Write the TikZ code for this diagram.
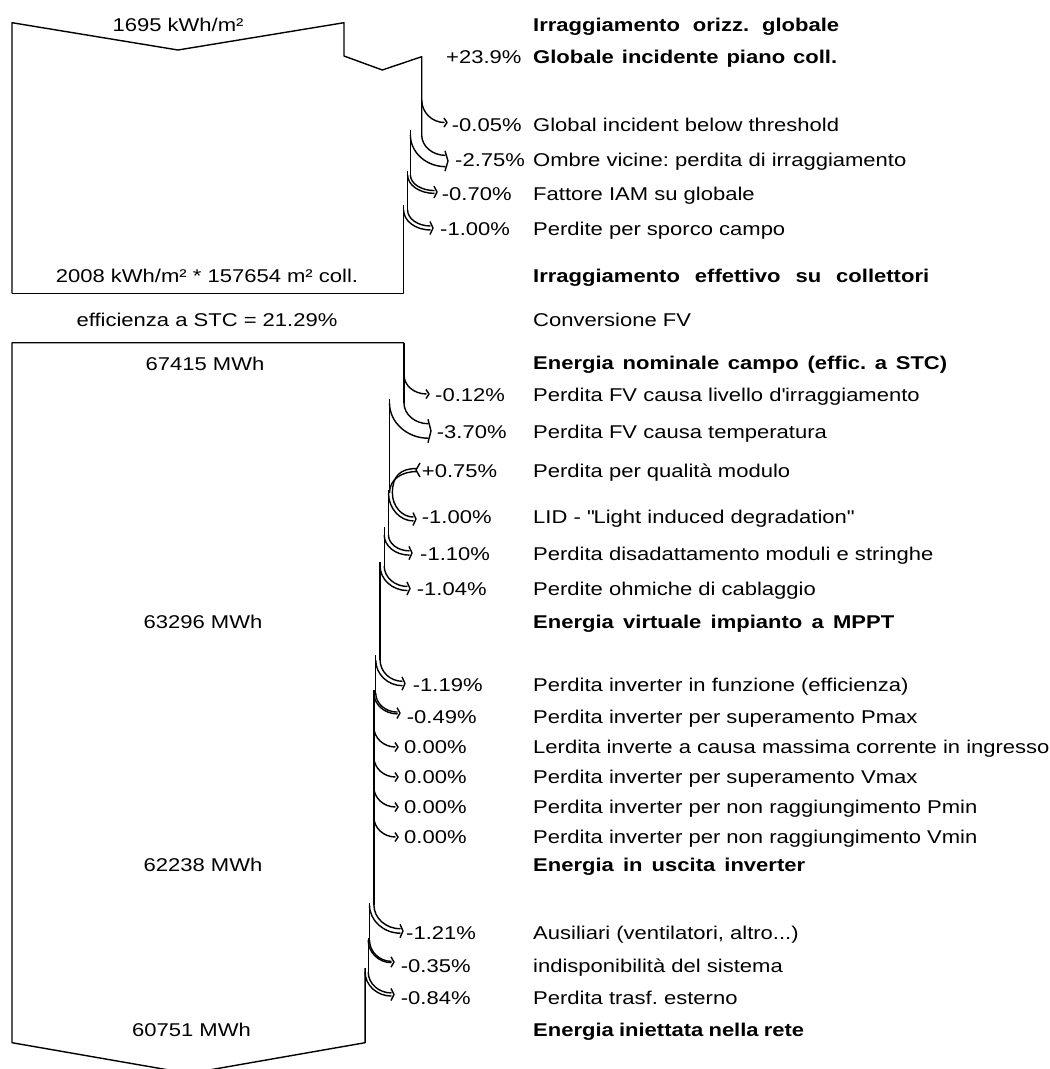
\documentclass[tikz,border=0pt]{standalone}
\usepackage{fontspec}
\setmainfont{Liberation Sans}[FakeStretch=1.19]
\frenchspacing
\newcommand\BL[2]{\makebox[#1pt][s]{\bfseries\frenchspacing #2}}
\newcommand\LossArr[5]{%
  \pgfmathsetmacro\LAxo{#1}%
  \pgfmathsetmacro\LAw{#2}%
  \pgfmathsetmacro\LAyb{#3}%
  \pgfmathsetmacro\LAxt{#4}%
  \pgfmathsetmacro\LAyt{#5}%
  \pgfmathsetmacro\LAxi{\LAxo-\LAw}%
  \pgfmathsetmacro\LAya{\LAyt-\LAw/2}%
  \pgfmathsetmacro\LAyc{\LAyt+\LAw/2}%
  \pgfmathsetmacro\LAxe{\LAxt-2.5}%
  \pgfmathtruncatemacro\LAtwo{\LAw>0.8 ? 1 : 0}%
  \draw[flow] (\LAxo,\LAyb) .. controls (\LAxo,{\LAyb+0.55*(\LAya-\LAyb)}) and ({\LAxe-0.55*(\LAxe-\LAxo)},\LAya) .. (\LAxe,\LAya);
  \ifnum\LAtwo=1
    \draw[flow] (\LAxi,\LAyb) .. controls (\LAxi,{\LAyb+0.55*(\LAyc-\LAyb)}) and ({\LAxe-0.55*(\LAxe-\LAxi)},\LAyc) .. (\LAxe,\LAyc);
  \fi
  \draw[flow] ({\LAxt-3},{\LAya-4.5}) -- (\LAxt,\LAyt) -- ({\LAxt-3},{\LAyc+4.5});
}
\begin{document}
\begin{tikzpicture}[x=1pt,y=-1pt,
  flow/.style={line width=1.4pt,line join=round},
  every node/.style={font=\fontsize{18.5}{22}\selectfont,inner sep=0pt},
  rl/.style={anchor=base west},
  cl/.style={anchor=base}]
\useasboundingbox (0,0) rectangle (1050,1069);
\clip (0,0) rectangle (1050,1069);

% ---------- upper flow (irradiance) ----------
\draw[flow] (12,293.3) -- (12,22.7) -- (178,50) -- (344,22.7) -- (344,56) -- (382.3,70) -- (421.7,56.7) -- (421.7,135);
\draw[flow] (410.4,130) -- (410.4,175);
\draw[flow] (407.6,171) -- (407.6,210);
\draw[flow] (403.6,205) -- (403.6,293.3) -- (12,293.3);
\LossArr{421.7}{0}{100}{447}{122.5}
\LossArr{421.7}{11.3}{135}{448}{161}
\LossArr{410.4}{2.8}{175}{437}{192}
\LossArr{407.6}{4.0}{210}{433}{228}

% ---------- lower flow (energy) ----------
\draw[flow] (404,342.7) -- (12,342.7) -- (12,1042.7) -- (189,1073.5) -- (365.1,1042.7) -- (365.1,968);
\draw[flow] (404,342.7) -- (404,403);
\LossArr{404}{0}{375}{429}{394}
\LossArr{404}{14.5}{403}{431}{431}
\draw[flow] (389.5,399) -- (389.5,493);
% gain +0.75%
\draw[flow] (417,468.5) .. controls (400,468.5) and (392.4,476) .. (392.4,493);
\draw[flow] (417,471.5) .. controls (402,471.5) and (389.5,479) .. (389.5,493);
\draw[flow] (420,463) -- (416,470) -- (420,477);
\LossArr{392.4}{3.9}{493}{416}{519}
\draw[flow] (388.5,490) -- (388.5,535);
\LossArr{388.5}{4.3}{535}{412}{553}
\draw[flow] (384.2,527) -- (384.2,566);
\LossArr{384.2}{4.1}{566}{410}{588.5}
\draw[flow] (380.1,562) -- (380.1,660);
\LossArr{380.1}{4.4}{660}{405}{683.5}
\draw[flow] (375.7,655) -- (375.7,693);
\LossArr{375.7}{1.8}{693}{400}{713}
\draw[flow] (373.9,690) -- (373.9,905);
\LossArr{373.9}{0}{727}{398}{747}
\LossArr{373.9}{0}{757}{398}{777}
\LossArr{373.9}{0}{787}{398}{807}
\LossArr{373.9}{0}{817}{398}{837}
\LossArr{373.9}{4.4}{905}{403}{931}
\draw[flow] (369.5,903) -- (369.5,940);
\LossArr{369.5}{1.3}{940}{394}{962}
\draw[flow] (368.2,938) -- (368.2,972);
\LossArr{368.2}{3.1}{972}{394}{994.5}

% ---------- left values ----------
\node[cl] (l1) at (178,31) {1695 kWh/m²};
\node[cl] (l2) at (207,282) {2008 kWh/m² * 157654 m² coll.};
\node[cl] (l3) at (207,326.5) {efficienza a STC = 21.29\%};
\node[cl] (l4) at (205,370) {67415 MWh};
\node[cl] (l5) at (203,628) {63296 MWh};
\node[cl] (l6) at (203,871.5) {62238 MWh};
\node[cl] (l7) at (191.5,1036.7) {60751 MWh};

% ---------- percentages ----------
\node[rl] (p1) at (446,63.3) {+23.9\%};
\node[rl] (p2) at (451.7,131.7) {-0.05\%};
\node[rl] (p3) at (455,166.5) {-2.75\%};
\node[rl] (p4) at (441.7,200) {-0.70\%};
\node[rl] (p5) at (440,235) {-1.00\%};
\node[rl] (p6) at (435,401.7) {-0.12\%};
\node[rl] (p7) at (436.7,438.3) {-3.70\%};
\node[rl] (p8) at (421.7,477.3) {+0.75\%};
\node[rl] (p9) at (421.7,523.3) {-1.00\%};
\node[rl] (p10) at (420,560.7) {-1.10\%};
\node[rl] (p11) at (416.7,595) {-1.04\%};
\node[rl] (p12) at (412.7,691.7) {-1.19\%};
\node[rl] (p13) at (406.7,723.3) {-0.49\%};
\node[rl] (p14) at (404,753.3) {0.00\%};
\node[rl] (p15) at (404,783.3) {0.00\%};
\node[rl] (p16) at (404,813.3) {0.00\%};
\node[rl] (p17) at (404,843.3) {0.00\%};
\node[rl] (p18) at (406,939) {-1.21\%};
\node[rl] (p19) at (400.7,972.5) {-0.35\%};
\node[rl] (p20) at (400.7,1004) {-0.84\%};

% ---------- right descriptions ----------
\node[rl] (r1) at (533,31.5) {\BL{306}{Irraggiamento orizz. globale}};
\node[rl] (r2) at (533,63.3) {\BL{304}{Globale incidente piano coll.}};
\node[rl] (r3) at (533,131.7) {Global incident below threshold};
\node[rl] (r4) at (533,166.5) {Ombre vicine: perdita di irraggiamento};
\node[rl] (r5) at (533,200) {Fattore IAM su globale};
\node[rl] (r6) at (533,235) {Perdite per sporco campo};
\node[rl] (r7) at (533,282) {\BL{396}{Irraggiamento effettivo su collettori}};
\node[rl] (r8) at (533,326.7) {Conversione FV};
\node[rl] (r9) at (533,369.3) {\BL{414}{Energia nominale campo (effic. a STC)}};
\node[rl] (r10) at (533,401.7) {Perdita FV causa livello d\textquotesingle irraggiamento};
\node[rl] (r11) at (533,438.3) {Perdita FV causa temperatura};
\node[rl] (r12) at (533,477.3) {Perdita per qualità modulo};
\node[rl] (r13) at (533,523.3) {LID - \textquotedbl Light induced degradation\textquotedbl};
\node[rl] (r14) at (533,560.7) {Perdita disadattamento moduli e stringhe};
\node[rl] (r15) at (533,595) {Perdite ohmiche di cablaggio};
\node[rl] (r16) at (533,628.3) {\BL{361}{Energia virtuale impianto a MPPT}};
\node[rl] (r17) at (533,691.7) {Perdita inverter in funzione (efficienza)};
\node[rl] (r18) at (533,723.3) {Perdita inverter per superamento Pmax};
\node[rl] (r19) at (533,753.3) {Lerdita inverte a causa massima corrente in ingresso};
\node[rl] (r20) at (533,783.3) {Perdita inverter per superamento Vmax};
\node[rl] (r21) at (533,813.3) {Perdita inverter per non raggiungimento Pmin};
\node[rl] (r22) at (533,843.3) {Perdita inverter per non raggiungimento Vmin};
\node[rl] (r23) at (533,871.5) {\BL{272}{Energia in uscita inverter}};
\node[rl] (r24) at (533,939) {Ausiliari (ventilatori, altro...)};
\node[rl] (r25) at (533,972.5) {indisponibilità del sistema};
\node[rl] (r26) at (533,1004) {Perdita trasf. esterno};
\node[rl] (r27) at (533,1036.7) {\BL{271}{Energia iniettata nella rete}};
\end{tikzpicture}
\end{document}
